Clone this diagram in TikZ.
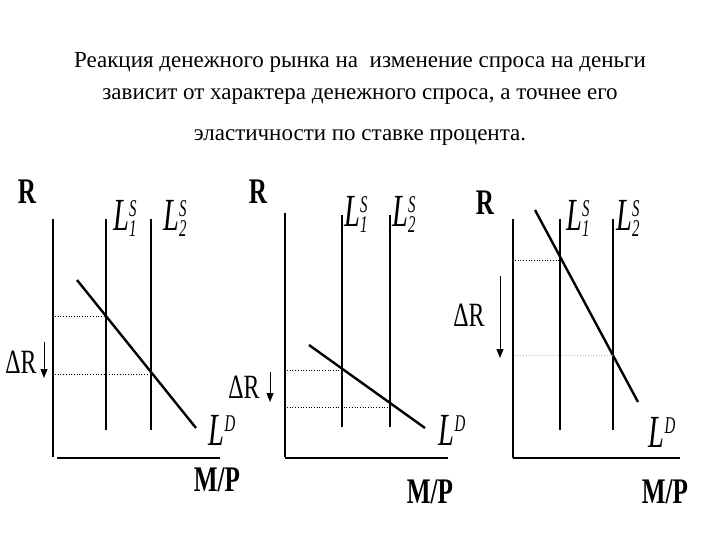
\documentclass[tikz,border=0pt]{standalone}
\usepackage{fontspec}
\setmainfont{Liberation Serif}
\newfontfamily\serifplain{Liberation Serif}
\newfontfamily\serifcond{Liberation Serif}[FakeStretch=0.7]
\newfontfamily\serifnarrow{Liberation Serif}[FakeStretch=0.62]
\usetikzlibrary{arrows.meta}
\newcommand{\LS}[1]{\textit{L}\makebox[0pt][l]{\raisebox{14pt}{\fontsize{24}{24}\selectfont\textit{S}}}\raisebox{-6pt}{\fontsize{24}{24}\selectfont\textit{#1}}}
\newcommand{\LD}{\textit{L}\raisebox{14pt}{\fontsize{24}{24}\selectfont\textit{D}}}
\begin{document}
\begin{tikzpicture}[x=1pt,y=-1pt,
  axis/.style={line width=2.2pt},
  supply/.style={line width=1.2pt},
  demand/.style={line width=2.4pt},
  guide/.style={dotted,line width=0.7pt},
  lab/.style={font=\serifcond\bfseries\fontsize{36}{36}\selectfont},
  dlab/.style={font=\serifcond\fontsize{34}{34}\selectfont},
  llab/.style={font=\serifnarrow\fontsize{46}{46}\selectfont,inner sep=0pt},
  ttl/.style={font=\serifplain\fontsize{23}{23}\selectfont},
  arr/.style={-{Triangle[length=9pt,width=7pt]},line width=1pt}]
\useasboundingbox (0,0) rectangle (720,540);
\node[ttl] (t1) at (360,62) {Реакция денежного рынка на \ изменение спроса на деньги};
\node[ttl] (t2) at (360,97) {зависит от характера денежного спроса, а точнее его};
\node[ttl] (t3) at (360,138) {эластичности по ставке процента.};
% panel 1
\draw[axis] (53,219) -- (53,457);
\draw[axis] (57,458) -- (220,458);
\draw[supply] (106,219) -- (106,430);
\draw[supply] (151,219) -- (151,430);
\draw[demand] (77,280) -- (196,428);
\draw[guide] (55,316) -- (106,316);
\draw[guide] (55,374) -- (151,374);
\draw[arr] (44,342) -- (44,378);
\node[lab] (r1) at (27,192) {R};
\node[dlab,anchor=east] (d1) at (40,362) {ΔR};
\node[llab] (a1) at (125,218) {\LS{1}};
\node[llab] (b1) at (175,218) {\LS{2}};
\node[llab] (c1) at (222,430) {\LD};
\node[lab] (m1) at (217,480) {M/P};
% panel 2
\draw[axis] (285,213) -- (285,457);
\draw[axis] (285,458) -- (448,458);
\draw[supply] (342,215) -- (342,427);
\draw[supply] (390,215) -- (390,427);
\draw[demand] (309,345) -- (425,428);
\draw[guide] (287,370) -- (342,370);
\draw[guide] (287,407) -- (390,407);
\draw[arr] (270,372) -- (270,402);
\node[dlab,anchor=east] (d2) at (263,387) {ΔR};
\node[lab] (r2) at (258,192) {R};
\node[llab] (a2) at (356,214) {\LS{1}};
\node[llab] (b2) at (404,214) {\LS{2}};
\node[llab] (c2) at (452,430) {\LD};
\node[lab] (m2) at (430,492) {M/P};
% panel 3
\draw[axis] (513,219) -- (513,458);
\draw[axis] (513,458) -- (680,458);
\draw[supply] (560,219) -- (560,430);
\draw[supply] (613,219) -- (613,430);
\draw[demand] (535,210) -- (638,402);
\draw[guide] (515,260) -- (560,260);
\draw[guide,gray!60] (515,355) -- (613,355);
\draw[arr] (500,276) -- (500,358);
\node[dlab,anchor=east] (d3) at (488,315) {ΔR};
\node[lab] (r3) at (485,203) {R};
\node[llab] (a3) at (578,218) {\LS{1}};
\node[llab] (b3) at (628,218) {\LS{2}};
\node[llab] (c3) at (662,432) {\LD};
\node[lab] (m3) at (665,492) {M/P};
\end{tikzpicture}
\end{document}
